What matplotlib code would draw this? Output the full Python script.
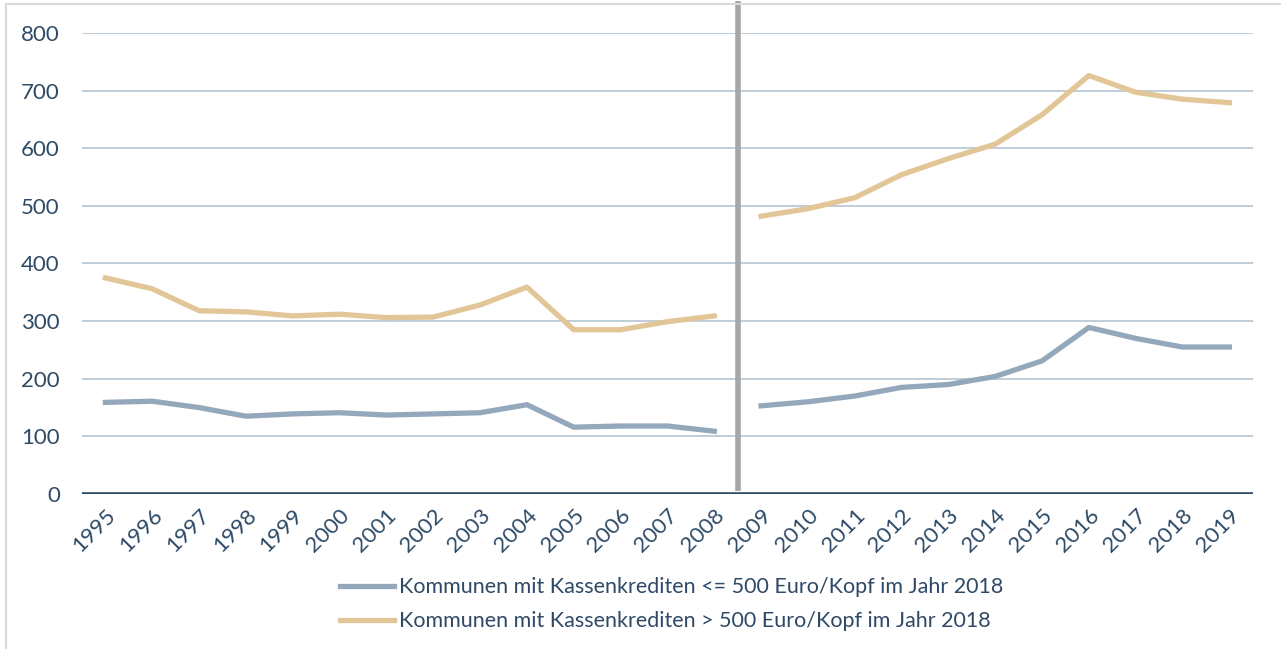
import matplotlib.pyplot as plt
import numpy as np

plt.rcParams['font.family'] = ['Lato', 'DejaVu Sans']

years = [str(y) for y in range(1995, 2020)]
# Kommunen mit Kassenkrediten <= 500 Euro/Kopf im Jahr 2018
low = [159, 161, 150, 135, 139, 141, 137, 139, 141, 155, 116, 118, 118, 109,
       153, 160, 170, 185, 190, 204, 231, 289, 270, 255, 255]
# Kommunen mit Kassenkrediten > 500 Euro/Kopf im Jahr 2018
high = [375, 356, 318, 316, 309, 312, 306, 307, 328, 359, 285, 285, 299, 309,
        482, 495, 514, 554, 582, 607, 658, 726, 697, 685, 679]
break_after = 2008
yticks = [0, 100, 200, 300, 400, 500, 600, 700, 800]

c_low = '#94a8bb'
c_high = '#e2c697'
txt = '#2e4a66'

x = np.arange(len(years))
split = years.index(str(break_after)) + 1

fig = plt.figure(figsize=(12.81, 6.49), dpi=100)
ax = fig.add_axes([0.064, 0.2388, 0.914, 0.7105])

for yv in yticks[1:]:
    ax.axhline(yv, color='#b9c9d6', lw=1.3, zorder=1)
ax.axhline(0, color='#2f4a68', lw=3.3, zorder=3)

ax.plot(x[:split], low[:split], color=c_low, lw=3.8, zorder=4,
        label='Kommunen mit Kassenkrediten <= 500 Euro/Kopf im Jahr 2018')
ax.plot(x[split:], low[split:], color=c_low, lw=3.8, zorder=4)
ax.plot(x[:split], high[:split], color=c_high, lw=3.8, zorder=4,
        label='Kommunen mit Kassenkrediten > 500 Euro/Kopf im Jahr 2018')
ax.plot(x[split:], high[split:], color=c_high, lw=3.8, zorder=4)

# structural break marker, reaches above the plot area
ax.plot([split - 0.5, split - 0.5], [5, 855], color='#a6a6a6', lw=4,
        zorder=2, clip_on=False, solid_capstyle='butt')

ax.set_xlim(-0.5, len(years) - 0.5)
ax.set_ylim(0, 800)
ax.set_yticks(yticks)
ax.set_xticks(x)
ax.set_xticklabels(years, rotation=45, ha='right', rotation_mode='anchor')
ax.tick_params(axis='both', length=0, colors=txt, labelsize=16)
ax.tick_params(axis='y', pad=16)
ax.tick_params(axis='x', pad=8)
for s in ax.spines.values():
    s.set_visible(False)

leg = fig.legend(loc='center', bbox_to_anchor=(0.524, 0.069), ncol=1,
                 frameon=False, fontsize=15.5, handlelength=2.55,
                 labelspacing=0.65, handletextpad=0.2)
for t in leg.get_texts():
    t.set_color(txt)

# light frame around the figure
fig.patches.append(plt.Rectangle((0.005, -0.01), 1.2, 1.004, transform=fig.transFigure,
                                 fill=False, edgecolor='#d9d9d9', lw=1.5))

fig.savefig('out.png', dpi=100)
